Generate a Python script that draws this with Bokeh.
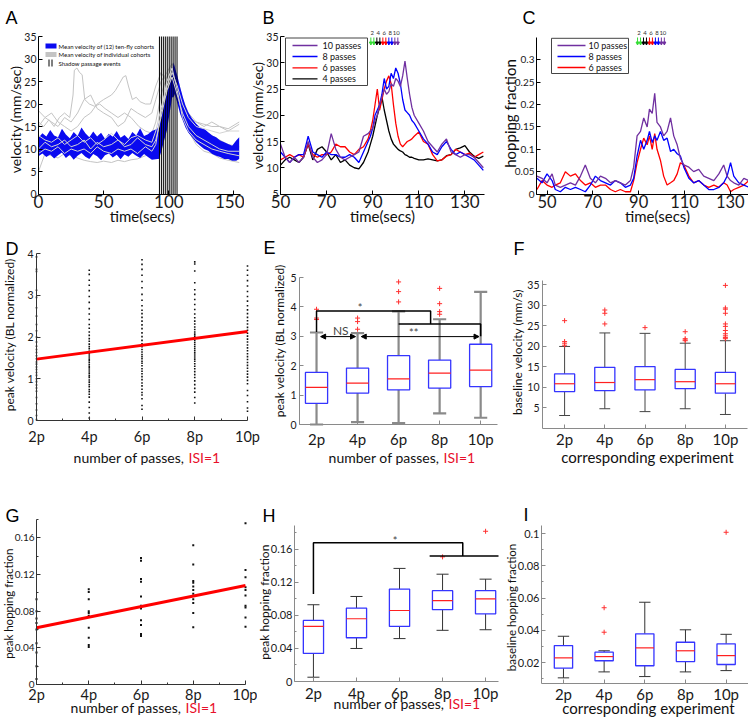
import math
from bokeh.plotting import figure
from bokeh.layouts import column, row
from bokeh.models import Range1d, FixedTicker, Label, Arrow, NormalHead, CustomJSTickFormatter
from bokeh.embed import file_html
from bokeh.resources import INLINE

FONT = "Lato"
LETTER_FONT = "Liberation Sans"

# ======================= DATA =======================
# ---- Panel A: mean velocity of cohorts (mm/sec) vs time (s)
a_band_t = [0, 3, 6, 9, 12, 15, 18, 21, 24, 27, 30, 33, 36, 39, 42, 45, 48, 51, 54, 57,
            60, 63, 66, 69, 72, 75, 78, 81, 84, 87,
            91.3, 92.3, 94.4, 96.4, 98.5, 100.5, 102.6, 103.6, 104.6, 106.7, 108.7, 110.8,
            112.8, 114.8, 117.9, 121, 124, 127.1, 130.2, 133.3, 136.3, 139.4, 142.5, 145.5,
            148.6, 151.7, 154]
a_band_hi = [12.5, 13.5, 12.8, 14.2, 13.0, 12.6, 14.5, 13.2, 12.4, 13.8, 12.9, 14.8, 13.5, 12.6,
             13.9, 12.8, 13.6, 12.3, 13.4, 12.7, 14.0, 12.5, 13.1, 12.2, 13.8, 13.0, 14.6, 12.9,
             13.3, 14.0,
             14.5, 15.6, 18.2, 20.4, 22.2, 24.5, 26.7, 29.3, 28.2, 26.0, 23.7, 21.5, 19.6, 18.2,
             16.7, 15.6, 14.8, 14.5, 13.7, 13.0, 12.6, 11.9, 11.5, 11.1, 10.7, 11.9, 12.6]
a_band_lo = [8.4, 9.0, 8.2, 8.8, 7.9, 8.6, 9.2, 8.0, 8.7, 7.6, 8.5, 9.1, 8.3, 7.8, 8.9, 8.4,
             7.5, 8.6, 9.0, 8.1, 8.7, 7.7, 8.8, 8.3, 9.1, 8.5, 8.0, 8.9, 8.2, 7.6,
             7.8, 7.8, 9.6, 11.9, 14.1, 17.8, 21.5, 21.5, 22.2, 20.0, 17.8, 16.3, 14.8, 13.7,
             12.6, 11.5, 10.7, 10.0, 9.6, 8.9, 8.5, 8.2, 7.8, 7.8, 7.4, 7.4, 7.8]
a_ga_t = [0, 4, 8, 12, 16, 20, 24, 26.5, 27.5, 29.5, 31.5, 33.5, 35.5, 39, 43, 47, 51, 56, 61,
          66, 71, 77, 82, 87, 90, 94, 98.5, 102.5, 106.5, 110.5, 115, 121, 127, 133, 139, 145.5, 154]
a_ga_v = [16, 15, 16.5, 15, 17, 18, 17, 22, 27.5, 28, 27, 26.5, 21, 20, 19.5, 20, 19, 18, 17,
          18, 17, 15, 14, 13.5, 16, 22, 26, 28, 24, 20, 17, 15, 14, 13, 12, 11, 10.5]
a_gb_t = [0, 5, 10, 15, 20, 25, 30, 35, 40, 45, 50, 56, 59, 62, 65, 67, 69, 72, 75, 78, 82, 86,
          90, 94, 98.5, 102.5, 106.5, 110.5, 115, 121, 127, 133, 139, 145.5, 154]
a_gb_v = [15, 17, 18, 16, 15, 14, 15, 17, 18, 20, 21, 22, 23, 24.5, 26, 26.3, 24, 21, 21.5, 20.5,
          20, 20, 24, 27, 25, 23, 21, 19, 17, 16, 15.5, 15, 15, 14.5, 16]
a_gray_t = [0, 5, 10, 15, 20, 25, 30, 35, 40, 45, 50, 56, 61, 66, 71, 76, 82, 87, 90, 94, 98.5,
            102.5, 106.5, 110.5, 115, 121, 127, 133, 139, 145.5, 154]
a_gc_v = [5, 9, 8.5, 8, 9, 8.5, 8, 7.5, 7.2, 7, 7.3, 7, 7.5, 7.2, 7.6, 7.8, 8.5, 9, 10, 16, 22,
          24, 21, 17, 14, 11, 9.5, 9, 8, 7.5, 7]
a_gd_v = [18.5, 17, 16, 15, 17, 16, 18, 21, 22, 19, 18, 17, 15, 16, 19, 18, 17, 18, 21, 25, 27,
          29, 26, 21, 18, 16, 15, 16, 15, 14, 15.5]
a_ge_v = [10, 11.5, 10.5, 11, 12, 10.5, 11, 12, 10, 11.5, 10.5, 11, 12, 10.5, 11, 12.5, 11, 10.5,
          12, 17, 23, 26, 22, 18, 15, 13, 12, 11, 10, 9.5, 9.5]
a_gf_v = [13, 12, 11.5, 12.5, 11, 12, 13, 11.5, 12.5, 11, 12, 13.5, 12, 11, 12.5, 13, 12, 11.5,
          14, 19, 24, 27, 24, 20, 17, 15, 14.5, 14, 13.5, 14, 14]
a_gg_v = [9, 10, 9.5, 10.5, 9, 10, 9.5, 10, 9, 10.5, 9.5, 9, 10, 9.5, 10, 9, 10.5, 9.5, 11, 18,
          25, 28, 23, 17, 14, 12, 11, 10, 9.5, 9, 8.5]
a_event_t = [92.8, 94.3, 95.8, 97.3, 98.8, 100.3, 101.8, 103.3, 104.8, 106.3]
a_legend = ["Mean velocity of (12) ten-fly cohorts", "Mean velocity of individual cohorts",
            "Shadow passage events"]

# ---- Panel B: velocity for different pass numbers
b_t = [50, 52, 54, 56, 58, 60, 62, 64, 66, 68, 70, 72, 74, 76, 78, 80, 82, 84, 86, 88,
       89, 90, 91, 92, 93, 94, 95, 96, 97, 98, 99, 100, 101, 102, 103, 104, 105, 106, 107, 108,
       110, 112, 114, 116, 118, 120, 122, 124, 126, 128, 130, 132, 134, 136, 138]
b_4 = [10.5, 11.5, 12, 11.5, 11, 12, 14.5, 11.5, 13.5, 14, 13, 11.5, 12.5, 11, 11.5, 10.5, 10, 9.8, 11, 13,
       14.5, 16, 18, 20, 21.5, 23.5, 21, 19, 17, 15.5, 14.5, 14, 13.5, 13.2, 13, 12.5, 12.3, 12, 12, 11.8,
       11.5, 11.5, 11.7, 11.5, 11.3, 11.5, 12.3, 12.5, 13.5, 13.8, 14.2, 13, 12.2, 11.8, 12.2]
b_6 = [11.5, 12, 12.5, 12, 12.5, 12, 14.5, 12.5, 12, 12.5, 12.5, 13, 14.5, 14, 14, 13, 12.5, 13.5, 14, 15.5,
       17, 19, 22, 25, 21, 23, 25, 26.5, 27.5, 26, 22, 18.5, 16, 14.5, 14, 14.5, 15, 15.2, 15.5, 16,
       16.8, 15, 14.5, 12.5, 11.3, 11.5, 12.2, 12.5, 13.5, 13, 12.5, 12.8, 12, 12.5, 13]
b_8 = [13, 12, 11, 12, 12.5, 12.5, 16, 13, 12.5, 12, 13, 12.5, 12.5, 12, 12, 12.5, 12, 11, 13, 15,
       16, 17.5, 20, 21, 22, 24, 27, 25, 25.5, 28, 27, 29, 28, 26, 23, 21, 20.5, 20, 19, 18.5,
       17, 15.5, 14.5, 13, 12.5, 14, 15, 13.5, 12.5, 13, 12.5, 12, 11.5, 10.5, 9.5]
b_10 = [14.5, 12, 11, 12, 11, 12, 15, 12, 11, 11.5, 12.5, 16.5, 13.5, 12, 11.5, 12, 12.5, 13, 16, 16.5,
        17, 17.5, 19, 20, 22, 23.5, 25, 24, 24.5, 26, 25.5, 27, 26.5, 25.5, 27.5, 30.3, 27, 24, 21.5, 20,
        18.5, 17, 15, 14, 13, 14.5, 15.5, 13, 12.5, 12, 12.5, 12.5, 12, 11, 10]
b_arrow_t = [89.2, 90.5, 91.8, 93.1, 94.4, 95.7, 97.0, 98.3, 99.6, 100.9]
c_arrow_t = [89.5, 90.8, 92.1, 93.4, 94.7, 96.0, 97.3, 98.6, 99.9, 101.2]
arrow_colors = ["#33dd33", "#33dd33", "black", "black", "red", "red", "blue", "blue", "#7030a0", "#7030a0"]
pass_labels = ["2", "4", "6", "8", "10"]
series_names = ["10 passes", "8 passes", "6 passes", "4 passes"]
series_colors = ["#7030a0", "#0000ff", "#ff0000", "#000000"]

# ---- Panel C: hopping fraction
c_t = [45.6, 47.8, 50.0, 52.2, 53.6, 55.8, 58.0, 60.2, 62.4, 64.6, 66.7, 68.9, 71.1, 73.3, 75.5,
       77.7, 79.8, 82.0, 84.2, 86.4, 87.8, 89.3, 90.8, 92.2, 93.7, 94.7, 95.9, 97.0, 98.0, 99.5,
       100.9, 102.4, 103.9, 105.3, 106.8, 108.2, 109.7, 111.9, 114.0, 116.2, 118.4, 120.6, 122.8,
       125.0, 127.1, 128.6, 130.1, 131.5, 133.7, 135.9, 138.1]
c_10 = [0.040, 0.035, 0.025, 0.045, 0.020, 0.015, 0.020, 0.025, 0.020, 0.040, 0.065, 0.035, 0.025,
        0.040, 0.035, 0.025, 0.030, 0.025, 0.020, 0.030, 0.060, 0.130, 0.140, 0.170, 0.150, 0.190,
        0.180, 0.225, 0.160, 0.150, 0.130, 0.140, 0.170, 0.130, 0.110, 0.080, 0.065, 0.060, 0.050,
        0.055, 0.040, 0.035, 0.030, 0.045, 0.065, 0.040, 0.030, 0.025, 0.020, 0.035, 0.030]
c_8 = [0.035, 0.025, 0.045, 0.030, 0.010, 0.005, 0.015, 0.010, 0.015, 0.010, 0.005, 0.020, 0.040,
       0.030, 0.025, 0.020, 0.030, 0.025, 0.015, 0.020, 0.035, 0.085, 0.120, 0.100, 0.120, 0.140,
       0.115, 0.130, 0.120, 0.140, 0.120, 0.125, 0.095, 0.100, 0.090, 0.085, 0.060, 0.035, 0.025,
       0.030, 0.020, 0.010, 0.010, 0.015, 0.025, 0.040, 0.070, 0.040, 0.025, 0.020, 0.015]
c_6 = [0.010, 0.030, 0.020, 0.015, 0.020, 0.025, 0.050, 0.040, 0.045, 0.030, 0.020, 0.025, 0.015,
       0.020, 0.020, 0.010, 0.005, 0.010, 0.005, 0.005, 0.030, 0.070, 0.100, 0.125, 0.110, 0.130,
       0.100, 0.135, 0.100, 0.075, 0.040, 0.020, 0.025, 0.030, 0.045, 0.070, 0.065, 0.040, 0.025,
       0.030, 0.020, 0.015, 0.020, 0.015, 0.025, 0.020, 0.005, 0.010, 0.015, 0.020, 0.030]

# ---- Panel D: peak velocity (BL normalized) per pass number
d_2p = [0.02, 0.12, 0.25, 0.4, 0.55, 0.7, 0.78, 0.85, 0.93, 1.0, 1.08, 1.15, 1.22, 1.28, 1.35, 1.4,
        1.48, 1.55, 1.63, 1.7, 1.78, 1.88, 2.0, 2.15, 2.3, 2.5, 2.7, 2.95, 3.12, 3.57, 3.62, 3.92]
d_4p = [0.06, 0.18, 0.31, 0.44, 0.56, 0.63, 0.69, 0.74, 0.81, 0.86, 0.92, 0.97, 1.03, 1.07, 1.12,
        1.16, 1.21, 1.26, 1.3, 1.34, 1.39, 1.43, 1.47, 1.52, 1.57, 1.61, 1.66, 1.72, 1.77, 1.83,
        1.9, 1.96, 2.04, 2.12, 2.21, 2.3, 2.42, 2.55, 2.68, 2.83, 2.97, 3.11, 3.24, 3.36, 3.5, 3.6]
d_6p = [0.27, 0.36, 0.52, 0.61, 0.67, 0.75, 0.83, 0.9, 0.98, 1.05, 1.12, 1.18, 1.24, 1.31, 1.37,
        1.42, 1.48, 1.53, 1.58, 1.64, 1.7, 1.77, 1.84, 1.92, 2.01, 2.1, 2.2, 2.29, 2.38, 2.47,
        2.56, 2.64, 2.75, 2.88, 3.02, 3.18, 3.33, 3.48, 3.62, 3.74, 3.85]
d_8p = [0.42, 0.55, 0.68, 0.77, 0.86, 0.95, 1.03, 1.1, 1.17, 1.24, 1.3, 1.36, 1.42, 1.47, 1.52,
        1.57, 1.62, 1.67, 1.72, 1.77, 1.82, 1.87, 1.92, 1.97, 2.02, 2.07, 2.12, 2.18, 2.24, 2.31,
        2.38, 2.46, 2.55, 2.66, 2.78, 2.9, 3.02, 3.13, 3.3, 3.58, 3.75, 3.8]
d_10p = [0.22, 0.3, 0.45, 0.6, 0.72, 0.88, 0.96, 1.04, 1.11, 1.18, 1.25, 1.32, 1.39, 1.46, 1.53,
         1.6, 1.67, 1.74, 1.81, 1.88, 1.95, 2.02, 2.09, 2.16, 2.23, 2.31, 2.39, 2.47, 2.56, 2.65,
         2.75, 2.86, 2.97, 3.09, 3.22, 3.35, 3.48, 3.6, 3.7]
d_fit_x = [2, 10]
d_fit_y = [1.47, 2.13]

# ---- Panel G: peak hopping fraction per pass number
g_2p = [0.006, 0.02, 0.035, 0.045, 0.06, 0.067, 0.072, 0.08, 0.093]
g_4p = [0.041, 0.043, 0.051, 0.062, 0.075, 0.078, 0.080, 0.093, 0.101, 0.104]
g_6p = [0.053, 0.055, 0.065, 0.070, 0.083, 0.086, 0.096, 0.112, 0.115, 0.135, 0.138]
g_8p = [0.0625, 0.078, 0.089, 0.093, 0.099, 0.103, 0.107, 0.111, 0.113, 0.131, 0.152]
g_10p = [0.063, 0.073, 0.084, 0.086, 0.097, 0.103, 0.106, 0.117, 0.125, 0.176]
g_fit_x = [2, 10]
g_fit_y = [0.062, 0.108]

pass_num = [2, 4, 6, 8, 10]
categories = ["2p", "4p", "6p", "8p", "10p"]

# ---- Panel E: box plot peak velocity
e_q1 = [0.72, 1.07, 1.18, 1.24, 1.29]
e_med = [1.26, 1.41, 1.55, 1.75, 1.85]
e_q3 = [1.77, 1.92, 2.34, 2.19, 2.73]
e_lo = [0.0, 0.08, 0.05, 0.38, 0.23]
e_hi = [3.13, 3.11, 3.85, 3.58, 4.51]
e_out_x = [1, 1, 1, 2, 2, 2, 3, 3, 3, 4, 4, 4, 4]
e_out_y = [3.57, 3.62, 3.92, 3.24, 3.5, 3.62, 4.17, 4.52, 4.85, 3.75, 3.84, 4.11, 4.63]

# ---- Panel F: box plot baseline velocity (mm/s)
f_q1 = [8.9, 9.1, 9.3, 9.6, 8.5]
f_med = [10.8, 11.1, 11.8, 11.3, 10.8]
f_q3 = [13.2, 14.8, 15.0, 14.3, 13.6]
f_lo = [3.05, 4.7, 4.0, 4.7, 3.3]
f_hi = [19.9, 23.2, 23.1, 20.7, 21.3]
f_out_x = [1, 1, 1, 1, 2, 2, 2, 3, 4, 4, 4, 4, 5, 5, 5, 5, 5, 5, 5, 5, 5, 5, 5]
f_out_y = [20.2, 20.7, 21.1, 26.2, 25.4, 28.0, 28.8, 24.5, 21.3, 21.5, 21.8, 23.5,
           21.8, 22.1, 22.5, 23.0, 23.8, 24.8, 25.4, 28.0, 29.0, 29.3, 34.8]

# ---- Panel H: box plot peak hopping fraction
h_q1 = [0.034, 0.053, 0.0667, 0.087, 0.082]
h_med = [0.0667, 0.076, 0.086, 0.098, 0.100]
h_q3 = [0.074, 0.089, 0.112, 0.110, 0.110]
h_lo = [0.0052, 0.040, 0.052, 0.062, 0.0627]
h_hi = [0.093, 0.103, 0.137, 0.130, 0.124]
h_out_x = [4, 5]
h_out_y = [0.151, 0.182]

# ---- Panel I: box plot baseline hopping fraction
i_q1 = [0.0165, 0.0211, 0.018, 0.0206, 0.0188]
i_med = [0.0229, 0.0237, 0.0291, 0.0273, 0.0243]
i_q3 = [0.0305, 0.0264, 0.0378, 0.0326, 0.0316]
i_lo = [0.0105, 0.0142, 0.0113, 0.0142, 0.015]
i_hi = [0.0363, 0.0273, 0.0574, 0.0403, 0.0375]
i_out_x = [2, 2, 5]
i_out_y = [0.054, 0.0388, 0.1008]

# tick values
a_xticks = [0, 50, 100, 150]
a_yticks = [0, 5, 10, 15, 20, 25, 30, 35]
b_xticks = [50, 70, 90, 110, 130]
b_yticks = [5, 10, 15, 20, 25, 30, 35]
c_yticks = [0, 0.05, 0.1, 0.15, 0.2, 0.25, 0.3]
d_yticks = [0, 1, 2, 3, 4]
e_yticks = [0, 1, 2, 3, 4, 5]
f_yticks = [5, 10, 15, 20, 25, 30, 35]
g_yticks = [0, 0.04, 0.08, 0.12, 0.16]
g_yminor = [0.02, 0.06, 0.10, 0.14, 0.18]
i_yticks = [0.02, 0.04, 0.06, 0.08, 0.1]
i_yminor = [0.01, 0.03, 0.05, 0.07, 0.09]

# ======================= LAYOUT HELPERS =======================
# The page template has no body margin, so canvas pixels equal target pixels.


class Panel:
    """A figure whose frame fills the whole cell; axes sit at fixed locations inside it."""

    def __init__(self, col, rowy, fx, fy, xr, yr):
        self.fx, self.fy, self.xr, self.yr = fx, fy, xr, yr
        full_x = (self.dx(col[0]), self.dx(col[1]))
        full_y = (self.dy(rowy[1]), self.dy(rowy[0]))
        p = figure(width=col[1] - col[0], height=rowy[1] - rowy[0],
                   x_range=Range1d(*full_x), y_range=Range1d(*full_y),
                   output_backend="svg", toolbar_location=None, tools="",
                   min_border_left=0, min_border_right=0, min_border_top=0, min_border_bottom=0)
        p.outline_line_color = None
        p.grid.visible = False
        p.background_fill_color = "white"
        p.border_fill_color = "white"
        self.p = p

    def dx(self, px):
        return self.xr[0] + (px - self.fx[0]) / (self.fx[1] - self.fx[0]) * (self.xr[1] - self.xr[0])

    def dy(self, py):
        return self.yr[0] + (self.fy[1] - py) / (self.fy[1] - self.fy[0]) * (self.yr[1] - self.yr[0])

    def label(self, px, py, text, size, color="#111111", align="center", baseline="middle",
              angle=0.0, font=FONT):
        self.p.add_layout(Label(x=self.dx(px), y=self.dy(py), text=text, text_font=font,
                                text_font_size=f"{size}px", text_color=color, text_align=align,
                                text_baseline=baseline, angle=angle))

    def ylabel(self, px, py, text, size):
        self.label(px, py, text, size, angle=math.pi / 2)

    def letter(self, px, py, text):
        self.label(px, py, text, 18, align="left", baseline="alphabetic", font=LETTER_FONT, color="black")

    def axes(self, xticks, yticks, xsize, ysize, color="#222222", xminor=None, yminor=None,
             xover=None, yfmt=False, xstand=3, ystand=3):
        p = self.p
        p.xaxis.ticker = FixedTicker(ticks=xticks, minor_ticks=xminor or [])
        p.yaxis.ticker = FixedTicker(ticks=yticks, minor_ticks=yminor or [])
        p.xaxis.fixed_location = self.yr[0]
        p.yaxis.fixed_location = self.xr[0]
        p.xaxis.bounds = tuple(self.xr)
        p.yaxis.bounds = tuple(self.yr)
        if xover:
            p.xaxis.major_label_overrides = xover
        if yfmt:
            p.yaxis.formatter = CustomJSTickFormatter(code="return String(Math.round(tick*10000)/10000);")
        for ax in (p.xaxis[0], p.yaxis[0]):
            ax.axis_line_color = color
            ax.major_tick_line_color = color
            ax.minor_tick_line_color = color
            ax.major_tick_in = 4
            ax.major_tick_out = 0
            ax.minor_tick_in = 2
            ax.minor_tick_out = 0
            ax.major_label_text_font = FONT
            ax.major_label_text_color = "#1a1a1a"
        p.xaxis.major_label_text_font_size = f"{xsize}px"
        p.yaxis.major_label_text_font_size = f"{ysize}px"
        p.xaxis.major_label_standoff = xstand
        p.yaxis.major_label_standoff = ystand


def boxplot(P, q1, med, q3, lo, hi, ox, oy, bw, cw, wcolor, wwidth, bcolor="#3535ff"):
    p = P.p
    xs = list(range(1, len(q1) + 1))
    p.segment(x0=xs, x1=xs, y0=q3, y1=hi, line_color=wcolor, line_width=wwidth)
    p.segment(x0=xs, x1=xs, y0=lo, y1=q1, line_color=wcolor, line_width=wwidth)
    p.segment(x0=[x - cw / 2 for x in xs], x1=[x + cw / 2 for x in xs], y0=hi, y1=hi,
              line_color=wcolor, line_width=wwidth)
    p.segment(x0=[x - cw / 2 for x in xs], x1=[x + cw / 2 for x in xs], y0=lo, y1=lo,
              line_color=wcolor, line_width=wwidth)
    p.vbar(x=xs, width=bw, top=q3, bottom=q1, fill_color="white", line_color=bcolor, line_width=1.3)
    p.segment(x0=[x - bw / 2 for x in xs], x1=[x + bw / 2 for x in xs], y0=med, y1=med,
              line_color="#ff2020", line_width=1.2)
    p.scatter(ox, oy, marker="cross", size=5, line_color="#ff3030", line_width=1)


cat_over = {i + 1: c for i, c in enumerate(categories)}
pass_over = {n: c for n, c in zip(pass_num, categories)}

# ======================= ROW 1 =======================
A = Panel((0, 244), (0, 226), (38, 240), (36, 193.5), (0, 155), (0, 35))
p = A.p
for t, v in ((a_ga_t, a_ga_v), (a_gb_t, a_gb_v), (a_gray_t, a_gc_v), (a_gray_t, a_gd_v)):
    p.line(t, v, line_color="#c4c4c4", line_width=1)
p.varea(x=a_band_t, y1=a_band_lo, y2=a_band_hi, fill_color="#0a0af0")
p.segment(x0=a_event_t, x1=a_event_t, y0=[A.yr[0]] * len(a_event_t), y1=[A.yr[1]] * len(a_event_t),
          line_color="black", line_width=1.0)
for v in (a_ge_v, a_gf_v, a_gg_v):
    p.line(a_gray_t, v, line_color="#d4d4d4", line_width=1)
p.quad(left=[A.dx(45)], right=[A.dx(56)], top=[A.dy(43)], bottom=[A.dy(48)], fill_color="#0a0af0", line_color=None)
p.quad(left=[A.dx(45)], right=[A.dx(56)], top=[A.dy(51.5)], bottom=[A.dy(56.5)], fill_color="#c4c4c4", line_color=None)
p.segment(x0=[A.dx(48.5), A.dx(51.5)], x1=[A.dx(48.5), A.dx(51.5)], y0=[A.dy(59)] * 2, y1=[A.dy(66)] * 2,
          line_color="black", line_width=1)
for txt, yy in zip(a_legend, (45.5, 54, 62.5)):
    A.label(58, yy, txt, 6, align="left")
A.axes(a_xticks, a_yticks, 17, 10.5, color="#000000", xstand=1, ystand=2)
A.letter(5, 17.5, "A")
A.ylabel(14.5, 119, "velocity (mm/sec)", 14)
A.label(141.7, 215.5, "time(secs)", 15)

B = Panel((244, 492), (0, 226), (280, 484), (36, 193.5), (50, 138.5), (5, 35))
p = B.p
for v, c in ((b_4, "#000000"), (b_6, "#ff0000"), (b_8, "#0000ff"), (b_10, "#7030a0")):
    p.line(b_t, v, line_color=c, line_width=1.3)
p.quad(left=[B.dx(285)], right=[B.dx(367)], top=[B.dy(37.5)], bottom=[B.dy(85)], fill_color="white",
       line_color="#444444", line_width=1)
for name, c, yy in zip(series_names, series_colors, (45, 56, 67.3, 78.3)):
    p.line([B.dx(292), B.dx(317)], [B.dy(yy)] * 2, line_color=c, line_width=1.3)
    B.label(322, yy, name, 9, align="left")
B.axes(b_xticks, b_yticks, 17, 10.5, color="#000000", xstand=1, ystand=2)
B.letter(262, 17.5, "B")
B.ylabel(257, 115, "velocity (mm/sec)", 14)
B.label(382, 215.5, "time(secs)", 15)

C = Panel((492, 748), (0, 226), (536, 750), (37, 193.5), (45.4, 138.8), (0, 0.35))
p = C.p
for v, c in ((c_6, "#ff0000"), (c_8, "#0000ff"), (c_10, "#7030a0")):
    p.line(c_t, v, line_color=c, line_width=1.3)
p.quad(left=[C.dx(551)], right=[C.dx(628)], top=[C.dy(37.8)], bottom=[C.dy(73)], fill_color="white",
       line_color="#444444", line_width=1)
for name, c, yy in zip(series_names[:3], series_colors[:3], (45, 56, 67)):
    p.line([C.dx(557), C.dx(585)], [C.dy(yy)] * 2, line_color=c, line_width=1.3)
    C.label(588, yy, name, 9, align="left")
C.axes(b_xticks, c_yticks, 16.5, 10, color="#000000", xstand=1, ystand=2, yfmt=True)
C.letter(522, 17.5, "C")
C.ylabel(509.5, 113, "hopping fraction", 15)
C.label(657, 215.5, "time(secs)", 15)

for P, ts in ((B, b_arrow_t), (C, c_arrow_t)):
    for t, col in zip(ts, arrow_colors):
        P.p.add_layout(Arrow(x_start=t, y_start=P.dy(37), x_end=t, y_end=P.dy(44.5), line_color=col,
                             line_width=1, end=NormalHead(size=3, fill_color=col, line_color=col)))
    for k, lab in enumerate(pass_labels):
        P.p.add_layout(Label(x=(ts[2 * k] + ts[2 * k + 1]) / 2, y=P.dy(32.5), text=lab, text_font=FONT,
                             text_font_size="6px", text_color="#333333", text_align="center",
                             text_baseline="middle"))

# ======================= ROW 2 =======================
D = Panel((0, 262), (226, 480), (36, 247), (253, 420), (2, 10), (0, 4))
p = D.p
for n, ys in zip(pass_num, (d_2p, d_4p, d_6p, d_8p, d_10p)):
    p.scatter([n] * len(ys), ys, marker="square", size=1.6, fill_color="#111111", line_color=None)
p.line(d_fit_x, d_fit_y, line_color="#ff0000", line_width=3)
D.axes(pass_num, d_yticks, 14.5, 10.5, color="#333333", xminor=[3, 5, 7, 9], xover=pass_over, xstand=7)
D.letter(5, 248, "D")
D.ylabel(8.5, 334, "peak velocity (BL normalized)", 12)
D.label(184, 457, "number of passes,", 14, align="right")
D.label(188, 457, "ISI=1", 14, align="left", color="#e8102a")

E = Panel((262, 505), (226, 480), (299, 497), (277, 424), (0.585, 5.41), (0, 5))
p = E.p
boxplot(E, e_q1, e_med, e_q3, e_lo, e_hi, e_out_x, e_out_y, 0.54, 0.32, "#8a8a8a", 2.2)
p.line([1, 1, 3.78, 3.78], [3.15, 3.86, 3.86, 3.42], line_color="black", line_width=1.5)
p.line([3, 5, 5], [3.42, 3.42, 3.0], line_color="black", line_width=1.5)
for x0, x1 in ((1.1, 1.95), (2.09, 4.96)):
    p.add_layout(Arrow(x_start=x0, y_start=2.99, x_end=x1, y_end=2.99, line_width=1, line_color="black",
                       start=NormalHead(size=5, fill_color="black"), end=NormalHead(size=5, fill_color="black")))
p.add_layout(Label(x=1.59, y=3.2, text="NS", text_font=FONT, text_font_size="12px", text_align="center", text_baseline="middle"))
p.add_layout(Label(x=3.37, y=3.12, text="**", text_font=FONT, text_font_size="11px", text_align="center", text_baseline="middle"))
p.add_layout(Label(x=2.06, y=3.98, text="*", text_font=FONT, text_font_size="11px", text_align="center", text_baseline="middle"))
E.axes([1, 2, 3, 4, 5], e_yticks, 15, 10.5, color="#8a8a8a", xover=cat_over, xstand=5)
E.letter(263, 247, "E")
E.ylabel(278.5, 340, "peak velocity (BL normalized)", 12)
E.label(439, 457, "number of passes,", 14, align="right")
E.label(443, 457, "ISI=1", 14, align="left", color="#e8102a")

F = Panel((505, 748), (226, 480), (542, 747), (280, 427.5), (0.45, 5.55), (0, 36))
p = F.p
boxplot(F, f_q1, f_med, f_q3, f_lo, f_hi, f_out_x, f_out_y, 0.5, 0.27, "#444444", 1)
F.axes([1, 2, 3, 4, 5], f_yticks, 15, 10.5, color="#8a8a8a", xover=cat_over, xstand=2)
F.letter(513, 248, "F")
F.ylabel(517, 351.5, "baseline velocity (mm/s)", 12)
F.label(647, 456, "corresponding experiment", 15)

# ======================= ROW 3 =======================
G = Panel((0, 257), (480, 720), (36, 245), (519, 684), (2, 10), (0, 0.18))
p = G.p
for n, ys in zip(pass_num, (g_2p, g_4p, g_6p, g_8p, g_10p)):
    p.scatter([n] * len(ys), ys, marker="square", size=2, fill_color="#111111", line_color=None)
p.line(g_fit_x, g_fit_y, line_color="#ff0000", line_width=3)
G.axes(pass_num, g_yticks, 14.5, 10, color="#333333", xminor=[3, 5, 7, 9], yminor=g_yminor,
       xover=pass_over, yfmt=True, xstand=1, ystand=2)
G.letter(5, 515, "G")
G.ylabel(7.5, 601.7, "peak  hopping fraction", 11.5)
G.label(181, 707, "number of passes,", 14, align="right")
G.label(185, 707, "ISI=1", 14, align="left", color="#e8102a")

H = Panel((257, 500), (480, 720), (294, 498), (525, 681), (0.56, 5.3), (0, 0.189))
p = H.p
boxplot(H, h_q1, h_med, h_q3, h_lo, h_hi, h_out_x, h_out_y, 0.47, 0.28, "#333333", 1)
p.line([1, 1, 4.47, 4.47], [0.106, 0.168, 0.168, 0.152], line_color="black", line_width=1.5)
p.line([3.70, 5.3], [0.152, 0.152], line_color="black", line_width=1.5)
p.add_layout(Label(x=2.9, y=0.171, text="*", text_font=FONT, text_font_size="11px", text_align="center", text_baseline="middle"))
H.axes([1, 2, 3, 4, 5], g_yticks, 15, 11, color="#8a8a8a", yminor=g_yminor, xover=cat_over, yfmt=True, xstand=2, ystand=2)
H.letter(262, 515, "H")
H.ylabel(263.5, 601.7, "peak hopping fraction", 12)
H.label(444, 703, "number of passes,", 14, align="right")
H.label(448, 703, "ISI=1", 14, align="left", color="#e8102a")

I = Panel((500, 748), (480, 720), (541, 748), (525, 683), (0.46, 5.55), (0.007, 0.105))
p = I.p
boxplot(I, i_q1, i_med, i_q3, i_lo, i_hi, i_out_x, i_out_y, 0.45, 0.28, "#333333", 1)
I.axes([1, 2, 3, 4, 5], i_yticks, 15, 11, color="#8a8a8a", yminor=i_yminor, xover=cat_over, yfmt=True, xstand=1, ystand=2)
I.letter(523, 514, "I")
I.ylabel(510.5, 607, "baseline hopping fraction", 11.5)
I.label(648, 707, "corresponding experiment", 15)

layout = column(row(A.p, B.p, C.p), row(D.p, E.p, F.p), row(G.p, H.p, I.p))
open("out.html", "w").write(file_html(layout, INLINE))
